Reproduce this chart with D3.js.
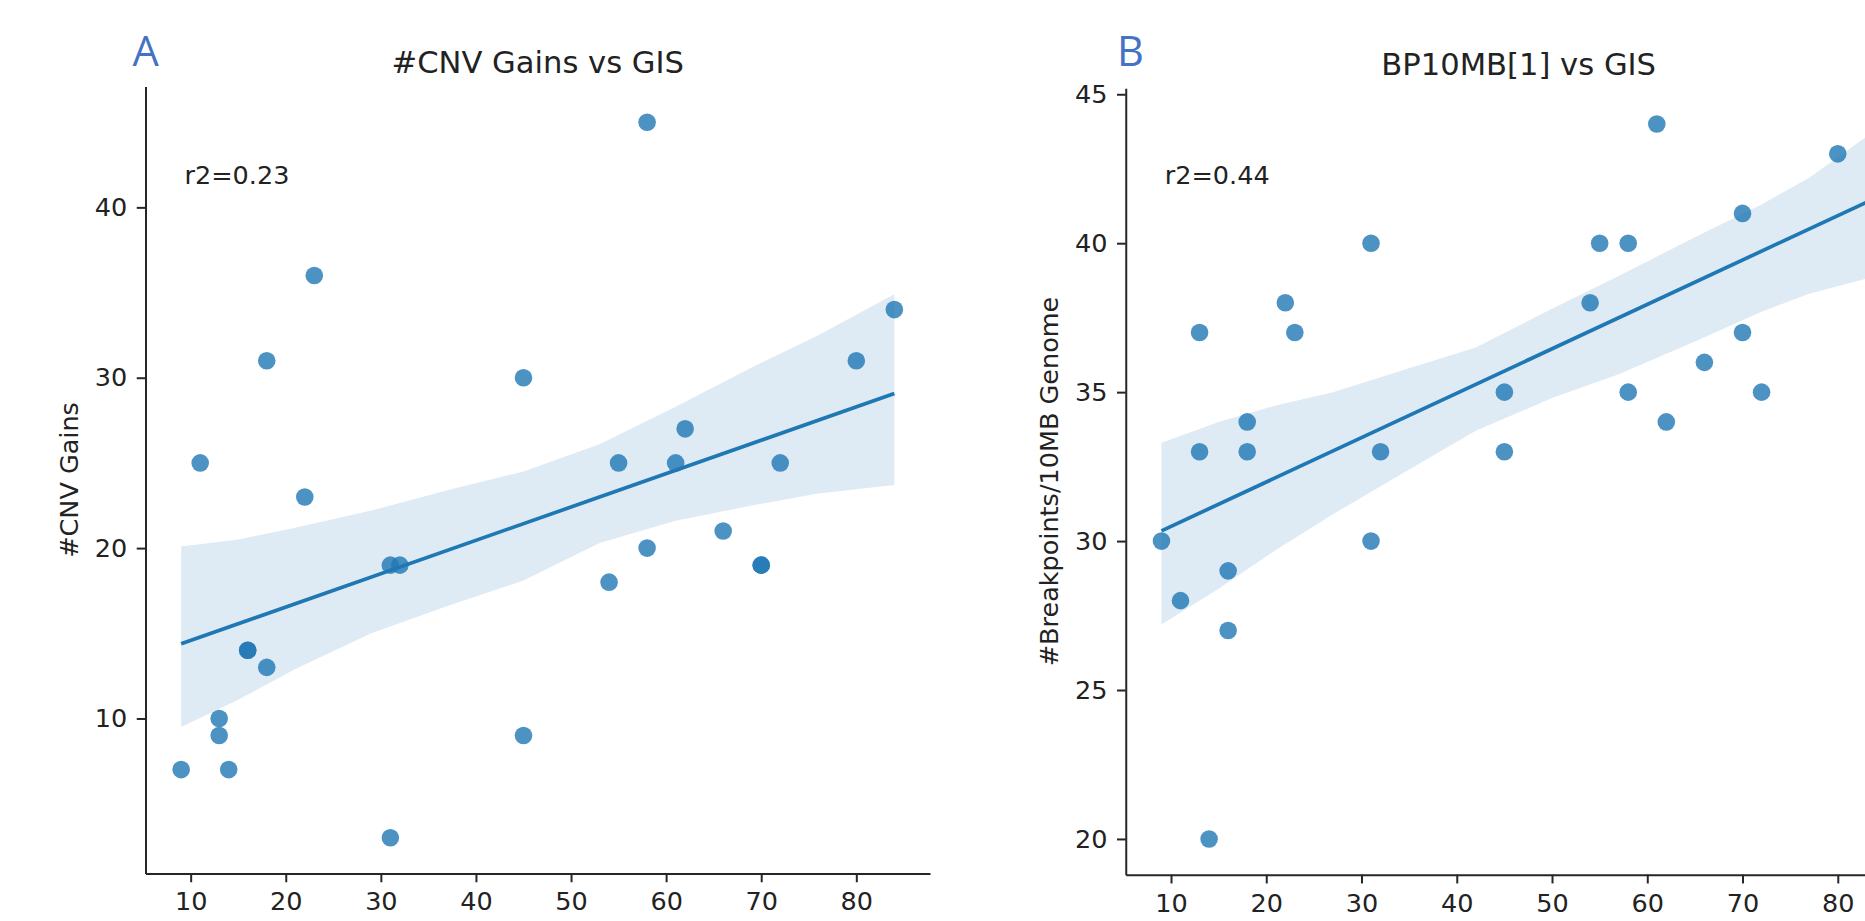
<!DOCTYPE html>
<html lang="en">
<head>
  <meta charset="UTF-8">
  <title>CNV Gains / BP10MB vs GIS</title>
  <script src="https://d3js.org/d3.v7.min.js"></script>
  <style>
    body { margin: 0; background: #fff; }
    text { font-family: "DejaVu Sans", sans-serif; fill: #222; }
    .tick text { font-size: 25.5px; }
    .tick line, .domain { stroke: #262626; stroke-width: 2px; }
    .panel-tag { font-family: "Open Sans", sans-serif; fill: #4472C4; font-size: 41.6px; }
  </style>
</head>
<body>
  <div id="chart"></div>

  <script>
    // GIS score, shared by both panels (x)
    const gis = [9, 11, 13, 13, 14, 16, 16, 18, 18, 22, 23, 31, 31, 32, 45, 45, 54, 55, 58, 58, 61, 62, 66, 70, 70, 72, 80, 84];
    // panel A: number of CNV gains
    const cnvGains = [7, 25, 10, 9, 7, 14, 14, 13, 31, 23, 36, 3, 19, 19, 30, 9, 18, 25, 45, 20, 25, 27, 21, 19, 19, 25, 31, 34];
    // panel B: breakpoints per 10MB (last point lies outside the picture)
    const bp10mb = [30, 28, 37, 33, 20, 29, 27, 34, 33, 38, 37, 40, 30, 33, 35, 33, 38, 40, 40, 35, 44, 34, 36, 41, 37, 35, 43, 43];

    // bootstrap CI band
    const bandGridA = [9, 15, 21, 29, 37, 45, 53, 61, 69, 76, 84];
    const bandLowA  = [9.5, 11.1, 12.9, 15.0, 16.6, 18.1, 20.3, 21.6, 22.5, 23.2, 23.7];
    const bandHighA = [20.1, 20.5, 21.2, 22.2, 23.4, 24.5, 26.1, 28.3, 30.6, 32.5, 34.9];
    const bandGridB = [9, 15, 21, 27, 35, 42, 50, 57, 65, 72, 77, 84];
    const bandLowB  = [27.2, 28.4, 29.7, 30.9, 32.4, 33.7, 34.8, 35.6, 36.7, 37.7, 38.3, 38.9];
    const bandHighB = [33.3, 34.0, 34.55, 35.0, 35.8, 36.5, 37.8, 38.9, 40.2, 41.3, 42.2, 43.8];

    const xTicks = [10, 20, 30, 40, 50, 60, 70, 80];
    const yTicksA = [10, 20, 30, 40];
    const yTicksB = [20, 25, 30, 35, 40, 45];

    const titles = ["#CNV Gains vs GIS", "BP10MB[1] vs GIS"];
    const yLabels = ["#CNV Gains", "#Breakpoints/10MB Genome"];
    const r2Labels = ["r2=0.23", "r2=0.44"];
    const tags = ["A", "B"];

    const blue = "#1f77b4";

    const svg = d3.select("#chart")
      .append("svg")
      .attr("width", 1865)
      .attr("height", 921);

    function fit(xs, ys) {
      const mx = d3.mean(xs), my = d3.mean(ys);
      let sxy = 0, sxx = 0;
      xs.forEach((x, i) => {
        sxy += (x - mx) * (ys[i] - my);
        sxx += (x - mx) * (x - mx);
      });
      const slope = sxy / sxx;
      return { slope: slope, intercept: my - slope * mx };
    }

    function drawPanel(p) {
      const x = d3.scaleLinear().domain([5.25, 87.75]).range([p.left, p.right]);
      const y = d3.scaleLinear().domain(p.yDomain).range([p.bottom, p.top]);
      const g = svg.append("g");

      // scatter
      g.append("g")
        .selectAll("circle")
        .data(p.xs.map((d, i) => [d, p.ys[i]]))
        .join("circle")
        .attr("cx", d => x(d[0]))
        .attr("cy", d => y(d[1]))
        .attr("r", 8.8)
        .attr("fill", blue)
        .attr("fill-opacity", 0.8);

      // CI band
      const band = d3.area()
        .x(d => x(d[0]))
        .y0(d => y(d[1]))
        .y1(d => y(d[2]));
      g.append("path")
        .datum(p.grid.map((d, i) => [d, p.low[i], p.high[i]]))
        .attr("d", band)
        .attr("fill", blue)
        .attr("fill-opacity", 0.15);

      // regression line
      const f = fit(p.xs, p.ys);
      const ends = d3.extent(p.xs);
      g.append("line")
        .attr("x1", x(ends[0]))
        .attr("y1", y(f.intercept + f.slope * ends[0]))
        .attr("x2", x(ends[1]))
        .attr("y2", y(f.intercept + f.slope * ends[1]))
        .attr("stroke", blue)
        .attr("stroke-width", 3.7);

      // axes (despined: only left and bottom)
      g.append("g")
        .attr("transform", `translate(0,${p.bottom})`)
        .call(d3.axisBottom(x).tickValues(xTicks).tickSize(8.75).tickPadding(10).tickSizeOuter(0));
      g.append("g")
        .attr("transform", `translate(${p.left},0)`)
        .call(d3.axisLeft(y).tickValues(p.yTicks).tickSize(8.75).tickPadding(9.5).tickSizeOuter(0));
      g.selectAll(".tick text").attr("fill", "#222");

      g.append("text")
        .attr("x", (p.left + p.right) / 2)
        .attr("y", p.top - 13.5)
        .attr("text-anchor", "middle")
        .style("font-size", "30.6px")
        .text(p.title);

      g.append("text")
        .attr("transform", `translate(${p.labelX},${(p.top + p.bottom) / 2}) rotate(-90)`)
        .attr("text-anchor", "middle")
        .style("font-size", "25.5px")
        .text(p.yLabel);

      g.append("text")
        .attr("x", p.left + 39)
        .attr("y", 184)
        .style("font-size", "25.5px")
        .text(p.r2);

      g.append("text")
        .attr("class", "panel-tag")
        .attr("x", p.tagX)
        .attr("y", 66)
        .text(p.tag);
    }

    drawPanel({
      left: 145.5, right: 930, top: 86.4, bottom: 873.5,
      yDomain: [0.9, 47.1], yTicks: yTicksA,
      xs: gis, ys: cnvGains,
      grid: bandGridA, low: bandLowA, high: bandHighA,
      title: titles[0], yLabel: yLabels[0], r2: r2Labels[0],
      labelX: 78, tag: tags[0], tagX: 132.5
    });

    drawPanel({
      left: 1125.75, right: 1911.6, top: 88.3, bottom: 874.7,
      yDomain: [18.8, 45.2], yTicks: yTicksB,
      xs: gis, ys: bp10mb,
      grid: bandGridB, low: bandLowB, high: bandHighB,
      title: titles[1], yLabel: yLabels[1], r2: r2Labels[1],
      labelX: 1058, tag: tags[1], tagX: 1117
    });
  </script>
</body>
</html>
